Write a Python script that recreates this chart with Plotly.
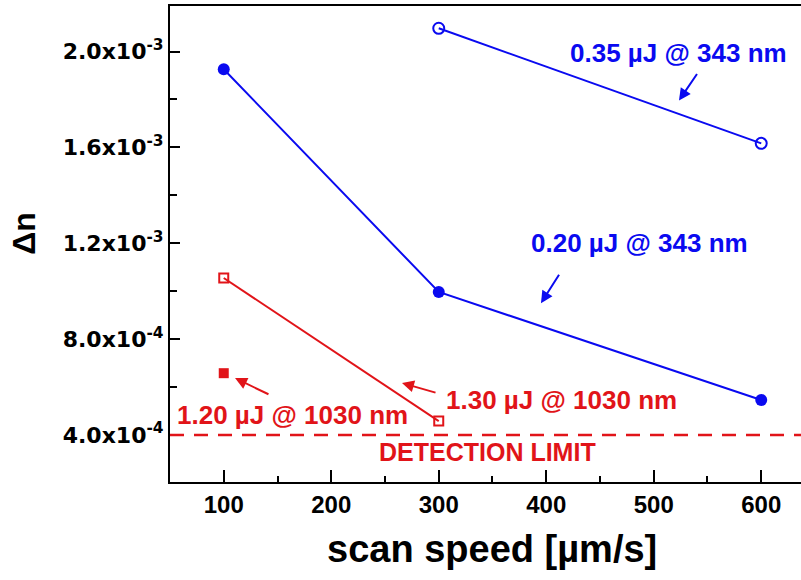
import plotly.graph_objects as go

# ---- data ----
speed_020 = [100, 300, 600]
dn_020 = [1.926e-3, 0.997e-3, 5.46e-4]

speed_035 = [300, 600]
dn_035 = [2.097e-3, 1.617e-3]

speed_130 = [100, 300]
dn_130 = [1.055e-3, 4.58e-4]

speed_120 = [100]
dn_120 = [6.58e-4]

detection_limit = 4.0e-4

x_ticks = [100, 200, 300, 400, 500, 600]
y_ticks = [4.0e-4, 8.0e-4, 1.2e-3, 1.6e-3, 2.0e-3]
y_ticklabels = ["4.0x10<sup>-4</sup>", "8.0x10<sup>-4</sup>", "1.2x10<sup>-3</sup>",
                "1.6x10<sup>-3</sup>", "2.0x10<sup>-3</sup>"]

BLUE = "rgb(10,10,240)"
RED = "rgb(225,20,25)"
FONT = "Liberation Sans, Arial, sans-serif"
WIDE = "DejaVu Sans, sans-serif"

fig = go.Figure()

fig.add_trace(go.Scatter(x=speed_020, y=dn_020, mode="lines+markers",
                         line=dict(color=BLUE, width=2),
                         marker=dict(symbol="circle", size=12, color=BLUE)))
fig.add_trace(go.Scatter(x=speed_035, y=dn_035, mode="lines+markers",
                         line=dict(color=BLUE, width=2),
                         marker=dict(symbol="circle-open", size=11, color=BLUE,
                                     line=dict(width=2, color=BLUE))))
fig.add_trace(go.Scatter(x=speed_130, y=dn_130, mode="lines+markers",
                         line=dict(color=RED, width=2),
                         marker=dict(symbol="square-open", size=9, color=RED,
                                     line=dict(width=2, color=RED))))
fig.add_trace(go.Scatter(x=speed_120, y=dn_120, mode="markers",
                         marker=dict(symbol="square", size=10, color=RED)))

fig.add_hline(y=detection_limit, line=dict(color=RED, width=2.5, dash="14px,10px"))

def label(x, y, text, color, size=26, family=FONT):
    fig.add_annotation(x=x, y=y, text=f"<b>{text}</b>", showarrow=False,
                       font=dict(family=family, size=size, color=color),
                       xanchor="center", yanchor="middle")

def arrow(x0, y0, x1, y1, color):
    fig.add_annotation(x=x1, y=y1, ax=x0, ay=y0, axref="x", ayref="y",
                       text="", showarrow=True, arrowhead=2, arrowsize=1.2,
                       arrowwidth=2, arrowcolor=color)

label(522.6, 1.996e-3, "0.35 µJ @ 343 nm", BLUE)
arrow(541.2, 1.9125e-3, 523.5, 1.796e-3, BLUE)
label(487.2, 1.2e-3, "0.20 µJ @ 343 nm", BLUE)
arrow(412.8, 1.075e-3, 395.1, 0.95e-3, BLUE)
label(414.2, 5.46e-4, "1.30 µJ @ 1030 nm", RED)
arrow(298.4, 5.75e-4, 265.8, 6.17e-4, RED)
label(164.4, 4.83e-4, "1.20 µJ @ 1030 nm", RED)
arrow(143.0, 5.67e-4, 110.5, 6.375e-4, RED)
label(345.8, 3.29e-4, "DETECTION LIMIT", RED, size=25)

# axis titles
fig.add_annotation(xref="paper", yref="paper", x=0.510, y=-0.140,
                   text="<b>scan speed [µm/s]</b>", showarrow=False,
                   font=dict(family=FONT, size=38, color="black"),
                   xanchor="center", yanchor="middle")
fig.add_annotation(xref="paper", yref="paper", x=-0.232, y=0.523,
                   text="<b>Δn</b>", showarrow=False, textangle=-90,
                   font=dict(family=FONT, size=32, color="black"),
                   xanchor="center", yanchor="middle")

fig.update_layout(
    width=801, height=580,
    margin=dict(l=170, r=0, t=6, b=98, autoexpand=False),
    plot_bgcolor="white", paper_bgcolor="white",
    showlegend=False,
    font=dict(family=FONT, color="black"),
)

fig.update_xaxes(
    range=[50, 637], tickmode="array", tickvals=x_ticks,
    ticks="inside", ticklen=12, tickwidth=2, tickcolor="black",
    showline=True, linewidth=2, linecolor="black", mirror=True,
    showgrid=False, zeroline=False, automargin=False,
    tickfont=dict(family=FONT, size=24, weight="bold"),
    minor=dict(tickvals=[150, 250, 350, 450, 550], ticks="inside", ticklen=6,
               tickwidth=2, tickcolor="black", showgrid=False),
)

fig.update_yaxes(
    range=[2.04e-4, 2.19e-3], tickmode="array", tickvals=y_ticks, ticktext=y_ticklabels,
    ticks="inside", ticklen=10, tickwidth=2, tickcolor="black",
    showline=True, linewidth=2, linecolor="black", mirror=False,
    showgrid=False, zeroline=False, automargin=False,
    tickfont=dict(family=WIDE, size=22, weight="bold"),
    minor=dict(tickvals=[6e-4, 1.0e-3, 1.4e-3, 1.8e-3], ticks="inside", ticklen=7,
               tickwidth=2, tickcolor="black", showgrid=False),
)

fig.write_html("out.html", config={"displayModeBar": False},
               post_script="document.body.style.margin='0';document.body.style.overflow='hidden';")
